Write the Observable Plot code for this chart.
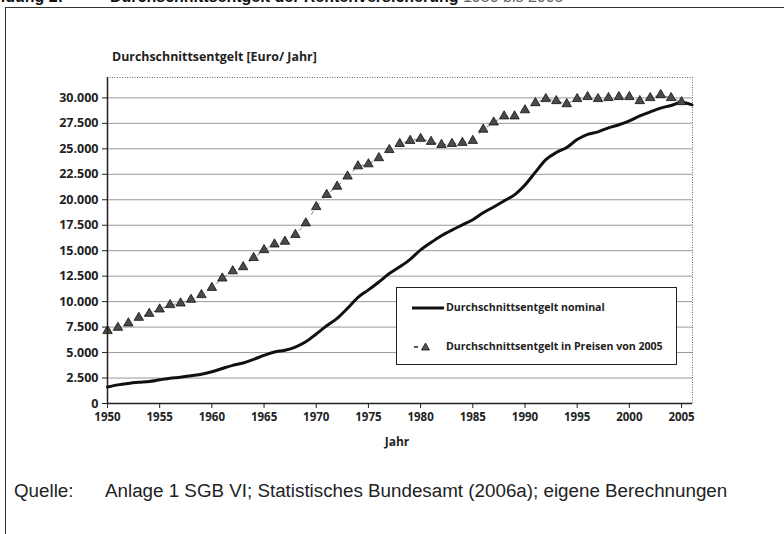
<!DOCTYPE html>
<html><head><meta charset="utf-8">
<script src="https://cdn.jsdelivr.net/npm/d3@7"></script>
<script src="https://cdn.jsdelivr.net/npm/@observablehq/plot@0.6"></script>
<style>
body{margin:0;background:#fff;}
#wrap{position:relative;width:784px;height:534px;overflow:hidden;background:#fff;font-family:"Open Sans",sans-serif;color:#222;}
.abs{position:absolute;white-space:nowrap;}
#frame{position:absolute;left:5px;top:7px;width:800px;height:540px;border-left:1.5px solid #333;border-top:1.5px solid #333;}
.t1{font-family:"Liberation Sans",Arial,sans-serif;font-weight:bold;font-size:16px;line-height:16px;top:-11px;color:#111;}
#ytitle{left:112px;top:48px;font-weight:bold;font-size:12.4px;}
#xtitle{left:397px;top:433px;transform:translateX(-50%);font-weight:bold;font-size:12px;}
#legend{position:absolute;left:396px;top:287px;width:279px;height:76px;border:1px solid #222;background:#fff;}
.lg{position:absolute;left:49px;font-weight:bold;font-size:10.6px;line-height:13px;}
.src{font-family:"Liberation Sans",Arial,sans-serif;font-size:18.8px;top:480px;color:#222;}
</style></head><body><div id="wrap">
<div id="frame"></div>
<div class="abs t1" style="right:721px;">Abbildung 2:</div>
<div class="abs t1" style="left:110px;">Durchschnittsentgelt der Rentenversicherung <span style="font-weight:normal;color:#666">1950 bis 2005</span></div>
<div id="ytitle" class="abs">Durchschnittsentgelt [Euro/ Jahr]</div>
<div id="chart" style="position:absolute;left:0;top:0;"></div>
<div id="xtitle" class="abs">Jahr</div>
<div id="legend">
  <svg style="position:absolute;left:0;top:0" width="279" height="76">
    <line x1="15" y1="20" x2="47" y2="20" stroke="#111" stroke-width="3"/>
    <line x1="17" y1="59" x2="21" y2="59" stroke="#555" stroke-width="2"/>
    <polygon points="28.5,55 32.5,62 24.5,62" fill="#555" stroke="#111" stroke-width="0.8"/>
  </svg>
  <div class="lg" style="top:13px;">Durchschnittsentgelt nominal</div>
  <div class="lg" style="top:52px;">Durchschnittsentgelt in Preisen von 2005</div>
</div>
<div class="abs src" style="left:14px;">Quelle:</div>
<div class="abs src" style="left:105px;">Anlage 1 SGB VI; Statistisches Bundesamt (2006a); eigene Berechnungen</div>
</div>
<script>
const years = [1950,1951,1952,1953,1954,1955,1956,1957,1958,1959,
  1960,1961,1962,1963,1964,1965,1966,1967,1968,1969,
  1970,1971,1972,1973,1974,1975,1976,1977,1978,1979,
  1980,1981,1982,1983,1984,1985,1986,1987,1988,1989,
  1990,1991,1992,1993,1994,1995,1996,1997,1998,1999,
  2000,2001,2002,2003,2004,2005,2006];
const nominal = [1616,1830,1970,2076,2165,2325,2477,2578,2725,2864,
  3119,3437,3747,3975,4329,4719,5058,5225,5543,6053,
  6822,7634,8352,9354,10421,11150,11931,12754,13418,14155,
  15075,15799,16463,17022,17533,18041,18727,19289,19887,20484,
  21447,22712,23939,24633,25126,25905,26423,26661,27060,27358,
  27741,28231,28626,29000,29250,29569,29304];
const real2005 = [7130,7450,7880,8430,8820,9250,9680,9840,10200,10660,
  11370,12290,13000,13400,14300,15070,15630,15900,16560,17700,
  19300,20500,21300,22300,23300,23500,24100,24900,25500,25800,
  26000,25700,25400,25500,25600,25800,26900,27600,28200,28200,
  28800,29500,29900,29700,29400,29900,30100,29900,30000,30100,
  30100,29700,30000,30300,30000,29600];
const yTicks = [0,2500,5000,7500,10000,12500,15000,17500,20000,22500,25000,27500,30000];
const xTicks = [1950,1955,1960,1965,1970,1975,1980,1985,1990,1995,2000,2005];

const nomData = years.map((y,i)=>({year:y, value:nominal[i]}));
const realData = real2005.map((v,i)=>({year:years[i], value:v}));
const de = d3.formatLocale({decimal:",", thousands:".", grouping:[3], currency:["","€"]});
const fmt = de.format(",d");
const xMax = 2006.05, yMax = 32000;

const chart = Plot.plot({
  width: 784, height: 460,
  marginLeft: 107, marginRight: 92, marginTop: 77, marginBottom: 57,
  x: {domain:[1950, xMax], ticks: xTicks, tickFormat: d=>String(d), label: null},
  y: {domain:[0, yMax], ticks: yTicks, tickFormat: fmt, label: null},
  style: {fontFamily:"Open Sans", fontWeight:"bold", color:"#222", background:"transparent"},
  marks: [
    Plot.ruleY(yTicks.filter(d=>d>0), {stroke:"#999", strokeWidth:1}),
    Plot.ruleY([yMax], {stroke:"#666", strokeDasharray:"1,1.5"}),
    Plot.ruleX([xMax], {stroke:"#666", strokeDasharray:"1,1.5"}),
    Plot.line(realData, {x:"year", y:"value", stroke:"#777", strokeWidth:1, strokeDasharray:"3,7"}),
    Plot.line(nomData, {x:"year", y:"value", stroke:"#111", strokeWidth:3, curve:"monotone-x"}),
    Plot.dot(realData, {x:"year", y:"value", symbol:"triangle", r:3.5, fill:"#4a4a4a", stroke:"#111", strokeWidth:0.8}),
    Plot.axisX({ticks: xTicks, tickFormat: d=>String(d), tickSize: 5, tickPadding: 4, fontSize: 11.5, label: null}),
    Plot.axisY({ticks: yTicks, tickFormat: fmt, tickSize: 5, tickPadding: 4, fontSize: 12.5, label: null}),
    Plot.ruleX([1950], {stroke:"#222", strokeWidth:1.5}),
    Plot.ruleY([0], {stroke:"#222", strokeWidth:1.5})
  ]
});
document.getElementById("chart").appendChild(chart);
</script>
</body></html>
